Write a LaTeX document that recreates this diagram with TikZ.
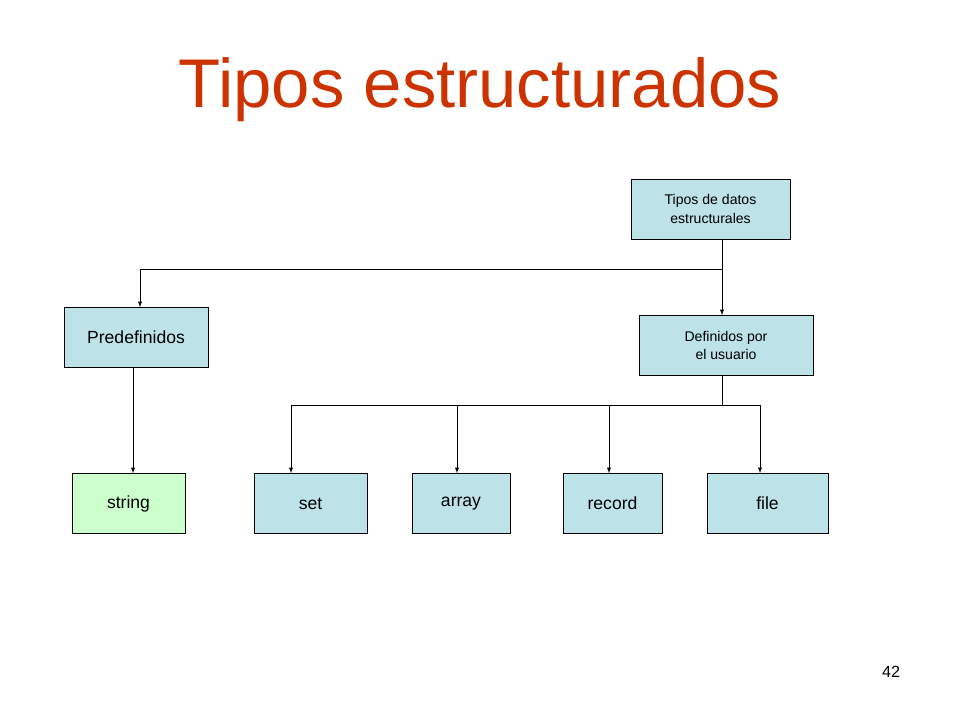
\documentclass[tikz,border=0pt]{standalone}
\usepackage{fontspec}
\setmainfont{Liberation Sans}
\usetikzlibrary{positioning}
\definecolor{boxblue}{RGB}{189,226,232}
\definecolor{boxgreen}{RGB}{204,255,204}
\definecolor{titlered}{RGB}{204,51,0}
\tikzset{
  tipo/.style={draw, fill=boxblue, minimum height=1.5cm, font=\fontsize{12.5}{14}\selectfont, align=center},
  small/.style={tipo, font=\fontsize{10}{13}\selectfont},
  flecha/.style={-latex}
}
\begin{document}
\begin{tikzpicture}[x=0.025cm, y=-0.025cm]
	\useasboundingbox (0,0) rectangle (960,720);
	\node[text=titlered, font=\fontsize{49}{50}\selectfont] (titulo) at (480,90) {Tipos estructurados};
	\node[font=\fontsize{11.5}{12}\selectfont] (pagina) at (891,672) {42};
	% nodos
	\node[small, minimum width=3.975cm] (raiz) at (710.5,209) {Tipos de datos\\estructurales};
	\node[tipo, minimum width=3.6cm] (pre) at (136,337.5) {Predefinidos};
	\node[small, minimum width=4.35cm] (def) at (726,345.5) {Definidos por\\el usuario};
	\node[tipo, fill=boxgreen, minimum width=2.825cm] (string) at (128.5,503.5) {string};
	\node[tipo, minimum width=2.825cm] (set) at (310.5,503.5) {set};
	\node[tipo, minimum width=2.45cm] (array) at (461,503.5) {array};
	\node[tipo, minimum width=2.475cm] (record) at (612.5,503.5) {record};
	\node[tipo, minimum width=3.025cm] (file) at (767.5,503.5) {file};
	% conexiones
	\coordinate (r1) at (722,269);
	\coordinate (d1) at (722,405);
	\draw[flecha] (raiz.south -| r1) -- (r1) -| (pre.north -| 140,0);
	\draw[flecha] (r1) -- (def.north -| r1);
	\draw (def.south -| d1) -- (d1);
	\draw[flecha] (d1) -| (set.north -| 291,0);
	\foreach \n/\x in {array/457, record/609, file/760} {
		\draw[flecha] (\x,405) -- (\n.north -| \x,0);
	}
	\draw (d1) -- (760,405);
	\draw[flecha] (pre.south -| 133,0) -- (string.north -| 133,0);
\end{tikzpicture}
\end{document}
